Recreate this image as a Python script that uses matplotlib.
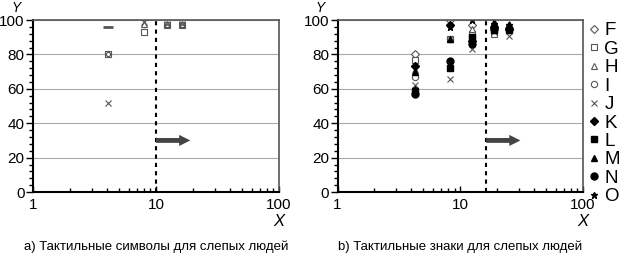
import matplotlib.pyplot as plt
import numpy as np

plt.rcParams['font.family'] = ['Liberation Sans', 'DejaVu Sans']

# left panel (a)
xa = [4.07, 8.0, 12.3, 16.2]
a_dash = [96, np.nan, np.nan, np.nan]
a_square = [80, 93, 97, 97]
a_circle = [80, 97, 97, 98]
a_triangle = [np.nan, 98, 98, 98]
a_cross = [52, 99, 98, 98]
a_limit = 10

# right panel (b)
xb = [4.27, 8.3, 12.5, 18.9, 25]
labels = ['F', 'G', 'H', 'I', 'J', 'K', 'L', 'M', 'N', 'O']
b_F = [80, 100, 97, 96, 95]
b_G = [77, 89, 92, 92, 94]
b_H = [71, 89, 95, 98, 98]
b_I = [67, 89, 90, 95, 96]
b_J = [62, 66, 83, 93, 91]
b_K = [73, 97, 88, 96, 95]
b_L = [59, 72, 90, 94, 94]
b_M = [70, 89, 90, 99, 97]
b_N = [57, 76, 86, 95, 95]
b_O = [60, 96, 100, 98, 97]
b_limit = 16.3

captions = ['a) Тактильные символы для слепых людей',
            'b) Тактильные знаки для слепых людей']

fig = plt.figure(figsize=(6.24, 2.54), dpi=100)
ax1 = fig.add_axes([0.053, 0.244, 0.394, 0.677])
ax2 = fig.add_axes([0.541, 0.244, 0.393, 0.677])

open_kw = dict(mfc='white', mec='#555555', mew=0.8, ls='none')
fill_kw = dict(color='black', ls='none')

ax1.plot(xa, a_dash, marker='_', ms=7, mew=2, color='#555555', ls='none')
ax1.plot(xa, a_square, marker='s', ms=5, **open_kw)
ax1.plot(xa, a_circle, marker='o', ms=3, **open_kw)
ax1.plot(xa, a_triangle, marker='^', ms=4, **open_kw)
ax1.plot(xa, a_cross, marker='x', ms=5, color='#555555', mew=0.8, ls='none')

series = [b_F, b_G, b_H, b_I, b_J, b_K, b_L, b_M, b_N, b_O]
markers = ['D', 's', '^', 'o', 'x', 'D', 's', '^', 'o', '*']
sizes = [4, 4.5, 4.5, 4.5, 5, 4, 4.5, 5, 5, 5]
handles = []
for i, (vals, m, s) in enumerate(zip(series, markers, sizes)):
    if i < 5:
        if m == 'x':
            h, = ax2.plot(xb, vals, marker=m, ms=s, color='#555555', mew=0.8, ls='none')
        else:
            h, = ax2.plot(xb, vals, marker=m, ms=s, **open_kw)
    else:
        h, = ax2.plot(xb, vals, marker=m, ms=s, **fill_kw)
    handles.append(h)

ax2.legend(handles, labels, loc='upper left', bbox_to_anchor=(1.0, 1.02),
           frameon=False, fontsize=13.5, handlelength=0.6, handletextpad=0.25,
           labelspacing=0.07, borderaxespad=0.1, borderpad=0.2, markerscale=1.0)

for ax, lim, cap in [(ax1, a_limit, captions[0]), (ax2, b_limit, captions[1])]:
    ax.set_xscale('log')
    ax.set_xlim(1, 100)
    ax.set_ylim(0, 100)
    ax.set_yticks([0, 20, 40, 60, 80, 100])
    ax.set_yticks(np.arange(0, 101, 4), minor=True)
    ax.grid(axis='y', color='#aaaaaa', lw=0.8)
    ax.set_axisbelow(True)
    ax.tick_params(axis='y', which='major', direction='out', length=5, width=1, labelsize=11, pad=1)
    ax.tick_params(axis='y', which='minor', direction='out', length=3, width=1)
    ax.tick_params(axis='x', which='major', direction='in', length=4, width=1, labelsize=11, pad=4)
    ax.tick_params(axis='x', which='minor', direction='in', length=3, width=1)
    ax.set_xticks([1, 10, 100])
    ax.set_xticklabels(['1', '10', '100'])
    ax.xaxis.set_minor_formatter(plt.NullFormatter())
    for s in ['left', 'bottom']:
        ax.spines[s].set_linewidth(1.5)
    for s in ['top', 'right']:
        ax.spines[s].set_color('#555555')
        ax.spines[s].set_linewidth(1.2)
    ax.axvline(lim, color='black', ls=(0, (2, 2)), lw=1.5)
    ax.annotate('', xy=(lim * 1.9, 30), xytext=(lim, 30),
                arrowprops=dict(arrowstyle='simple,head_length=0.8,head_width=0.8,tail_width=0.35',
                                color='#444444', lw=0, shrinkA=0, shrinkB=0))
    ax.text(1.0, -0.13, 'X', transform=ax.transAxes, fontsize=12, style='italic',
            ha='center', va='top')
    ax.text(0.5, -0.28, cap, transform=ax.transAxes, fontsize=9.5, ha='center', va='top')

# Y labels above the value axes
for xpos in [12 / 624, 316 / 624]:
    fig.text(xpos, 1 - 1 / 254, 'Y', fontsize=10, style='italic', ha='left', va='top')

fig.savefig('out.png', dpi=100)
